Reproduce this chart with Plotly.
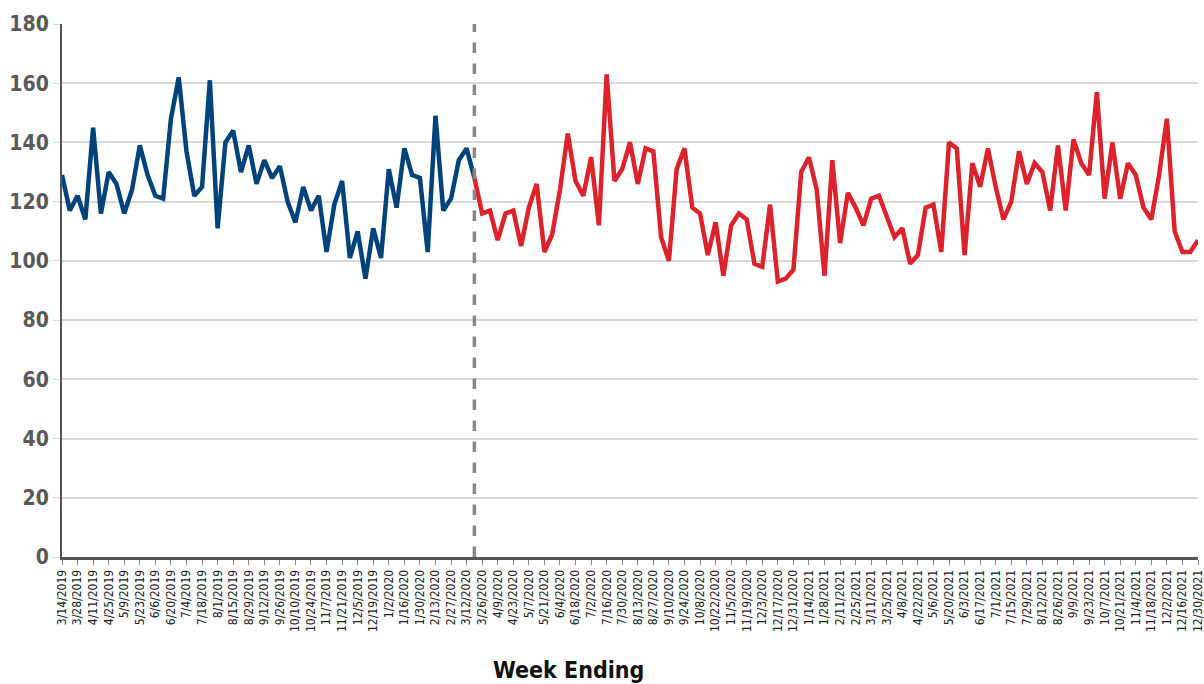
import pandas as pd
import plotly.graph_objects as go

# ── Dados ─────────────────────────────────────────────────────────────────────
weeks = [f"{d.month}/{d.day}/{d.year}"
         for d in pd.date_range("2019-03-14", "2021-12-30", freq="7D")]
split_week = "3/19/2020"

blue_vals = [129, 117, 122, 114, 145, 116, 130, 126, 116, 124, 139, 129, 122, 121,
             148, 162, 137, 122, 125, 161, 111, 140, 144, 130, 139, 126, 134, 128,
             132, 120, 113, 125, 117, 122, 103, 119, 127, 101, 110, 94, 111, 101,
             131, 118, 138, 129, 128, 103, 149, 117, 121, 134, 138, 128]

red_vals = [128, 116, 117, 107, 116, 117, 105, 118, 126, 103, 109, 124, 143, 127,
            122, 135, 112, 163, 127, 131, 140, 126, 138, 137, 108, 100, 131, 138,
            118, 116, 102, 113, 95, 112, 116, 114, 99, 98, 119, 93, 94, 97, 130,
            135, 124, 95, 134, 106, 123, 118, 112, 121, 122, 115, 108, 111, 99,
            102, 118, 119, 103, 140, 138, 102, 133, 125, 138, 125, 114, 120, 137,
            126, 133, 130, 117, 139, 117, 141, 133, 129, 157, 121, 140, 121, 133,
            129, 118, 114, 129, 148, 110, 103, 103, 107]

y_ticks = [0, 20, 40, 60, 80, 100, 120, 140, 160, 180]

# ── Estilo ────────────────────────────────────────────────────────────────────
BLUE = "#00427A"
RED = "#DC222B"
NARROW = "Liberation Sans Narrow, DejaVu Sans Condensed, Arial Narrow, sans-serif"

i_split = weeks.index(split_week)
blue_x = weeks[:i_split + 1]
red_x = weeks[i_split:]

fig = go.Figure()
fig.add_trace(go.Scatter(x=blue_x, y=blue_vals, mode="lines",
                         line=dict(color=BLUE, width=4.5), showlegend=False))
fig.add_trace(go.Scatter(x=red_x, y=red_vals, mode="lines",
                         line=dict(color=RED, width=4.5), showlegend=False))

fig.add_shape(type="line", x0=split_week, x1=split_week, y0=0, y1=1,
              xref="x", yref="paper",
              line=dict(color="#888888", width=3.5, dash="dash"))

fig.add_annotation(text="<b>Week Ending</b>", xref="paper", yref="paper",
                   x=0.446, y=-0.212, showarrow=False, yanchor="middle",
                   font=dict(family=NARROW, size=23, color="#111111"))

fig.update_layout(
    width=1204, height=684,
    margin=dict(l=62, r=6, t=24, b=127),
    paper_bgcolor="#ffffff",
    plot_bgcolor="#ffffff",
    xaxis=dict(
        type="category",
        categoryorder="array", categoryarray=weeks,
        range=[0, len(weeks) - 1],
        tickmode="array", tickvals=weeks[::2], ticktext=weeks[::2],
        tickangle=-90,
        tickfont=dict(family=NARROW, size=12, color="#222222"),
        ticks="outside", ticklen=5, tickcolor="#888888", tickwidth=1,
        showline=True, linecolor="#555555", linewidth=3,
        showgrid=False, zeroline=False, automargin=False,
    ),
    yaxis=dict(
        range=[0, 180],
        tickvals=y_ticks,
        tickfont=dict(family=NARROW, size=21, color="#595959", weight=700),
        ticks="outside", ticklen=7, tickcolor="#d9d9d9",
        showline=True, linecolor="#555555", linewidth=2,
        showgrid=True, gridcolor="#d9d9d9", gridwidth=1.5,
        zeroline=False, automargin=False,
    ),
)

# a página padrão tem margem de 8px no body; zera para ocupar a janela inteira
fig.write_html("out.html", config={"displayModeBar": False},
               post_script="document.body.style.margin='0';")
